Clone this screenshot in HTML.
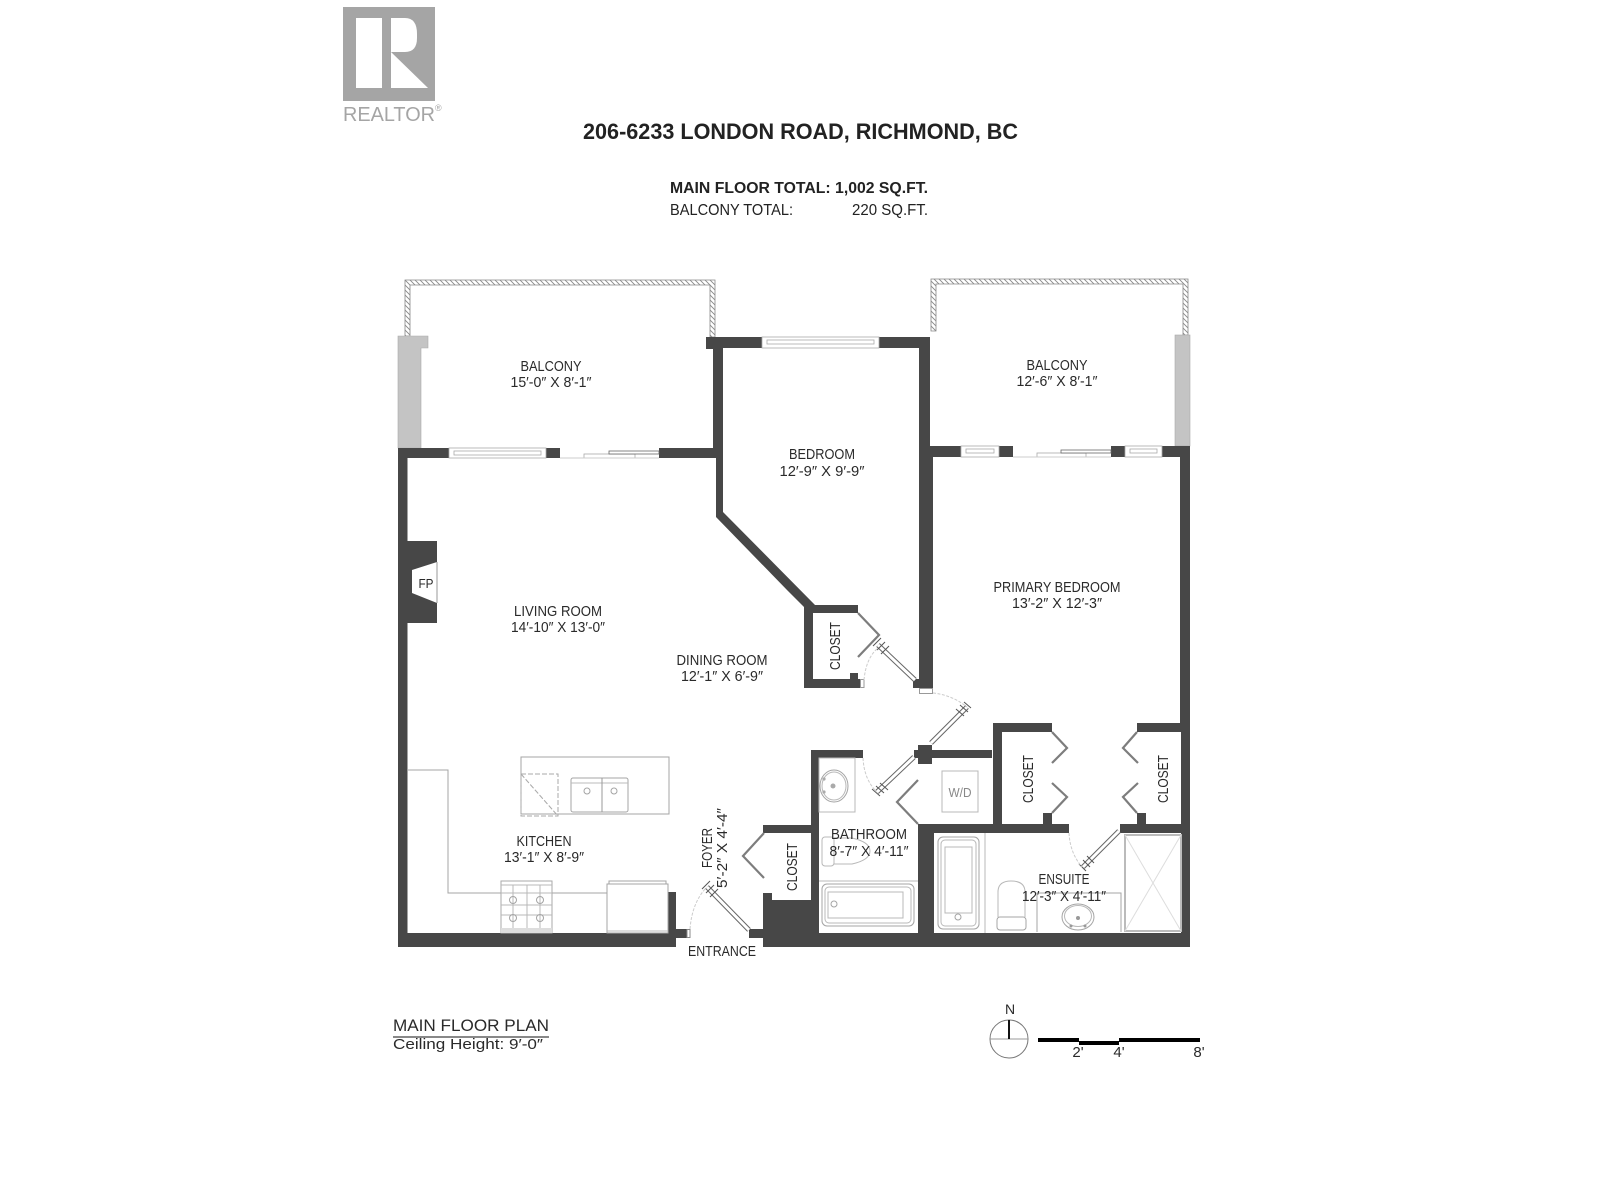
<!DOCTYPE html>
<html><head><meta charset="utf-8"><title>206-6233 London Road floor plan</title>
<style>
html,body{margin:0;padding:0;background:#fff}
svg{display:block}
text{font-family:"Liberation Sans",sans-serif;fill:#2a2a2a}
.f{fill:none;stroke:#a4a4a4;stroke-width:1}
.fd{fill:none;stroke:#b8b8b8;stroke-width:1}
.arc{fill:none;stroke:#ccc;stroke-width:1;stroke-dasharray:3 1.5}
.bf{fill:none;stroke:#7d7d7d;stroke-width:2.2}
.dr{stroke:#666;stroke-width:5;fill:none}
.dw{stroke:#fff;stroke-width:3;fill:none}
.tk{stroke:#555;stroke-width:1;fill:none}
.w{fill:#474747}
</style></head><body>
<svg xmlns="http://www.w3.org/2000/svg" width="1600" height="1200" viewBox="0 0 1600 1200">
<defs>
<pattern id="h" patternUnits="userSpaceOnUse" width="5" height="5"><rect width="5" height="5" fill="#fff"/><path d="M0 0L5 5M-1 4L1 6M4 -1L6 1" stroke="#888" stroke-width="0.9"/></pattern>
</defs>
<rect width="1600" height="1200" fill="#fff"/>

<!-- logo -->
<rect x="343" y="7" width="92" height="94" fill="#a5a5a5"/>
<rect x="356" y="18" width="26" height="70" fill="#fff"/>
<path d="M391 18H405Q417 18 417 34V38Q417 52 405 52H391Z" fill="#fff"/>
<path d="M391 52L428 88H391Z" fill="#fff"/>
<text x="343" y="121" font-size="20" textLength="92" lengthAdjust="spacingAndGlyphs" style="fill:#a5a5a5">REALTOR</text>
<text x="435" y="111" font-size="9" style="fill:#a5a5a5">®</text>

<!-- heading -->
<text x="583" y="139" font-size="22" font-weight="bold" textLength="435" lengthAdjust="spacingAndGlyphs" style="fill:#222">206-6233 LONDON ROAD, RICHMOND, BC</text>
<text x="670" y="193" font-size="16" font-weight="bold" textLength="258" lengthAdjust="spacingAndGlyphs" style="fill:#222">MAIN FLOOR TOTAL: 1,002 SQ.FT.</text>
<text x="670" y="215" font-size="16" textLength="123" lengthAdjust="spacingAndGlyphs" style="fill:#222">BALCONY TOTAL:</text>
<text x="852" y="215" font-size="16" textLength="76" lengthAdjust="spacingAndGlyphs" style="fill:#222">220 SQ.FT.</text>

<!-- balcony rails -->
<g fill="url(#h)" stroke="#888" stroke-width="0.8">
<path d="M405 280H715V337H710V285H410V336H405Z"/>
<path d="M931 279H1188V335H1183V284H936V331H931Z"/>
</g>
<!-- grey pillars -->
<path d="M398 336H428V348H421V448H398Z" fill="#c4c4c4" stroke="#aaa" stroke-width="0.6"/>
<rect x="1175" y="335" width="15" height="111" fill="#c4c4c4" stroke="#aaa" stroke-width="0.6"/>

<!-- walls -->
<g class="w">
<rect x="398" y="448" width="9.5" height="499"/>
<rect x="398" y="448" width="51" height="10"/>
<rect x="546" y="448" width="14" height="10"/>
<rect x="659" y="448" width="57" height="10"/>
<rect x="706" y="337" width="56" height="11"/>
<rect x="879" y="337" width="51" height="11"/>
<rect x="706" y="337" width="17" height="12"/>
<rect x="919" y="337" width="11" height="112"/>
<path d="M713 337H723V512L815 605H858V613H813V679H860V688H804V607L787 590L716 517V458H713Z"/>
<rect x="850" y="673" width="8" height="6"/>
<rect x="919" y="446" width="14" height="242"/>
<rect x="913" y="679" width="6" height="9"/>
<rect x="919" y="446" width="42" height="11"/>
<rect x="999" y="446" width="14" height="11"/>
<rect x="1111" y="446" width="14" height="11"/>
<rect x="1162" y="446" width="28" height="11"/>
<rect x="1180" y="446" width="10" height="277"/>
<rect x="1181" y="723" width="9" height="224"/>
<rect x="398" y="933" width="278" height="14"/>
<rect x="668" y="892" width="8" height="55"/>
<rect x="676" y="929" width="11" height="9"/>
<rect x="749" y="929" width="14" height="9"/>
<rect x="763" y="933" width="427" height="14"/>
<rect x="763" y="825" width="48" height="8"/>
<rect x="763" y="893" width="9" height="54"/>
<rect x="763" y="900" width="56" height="47"/>
<rect x="811" y="750" width="8" height="183"/>
<rect x="811" y="750" width="52" height="8"/>
<rect x="918" y="824" width="16" height="123"/>
<rect x="918" y="824" width="151" height="9"/>
<rect x="1120" y="824" width="70" height="9"/>
<rect x="932" y="750" width="60" height="8"/>
<rect x="918" y="745" width="14" height="19"/>
<rect x="914" y="750" width="4" height="8"/>
<rect x="993" y="723" width="9" height="101"/>
<rect x="993" y="723" width="59" height="9"/>
<rect x="1043" y="813" width="9" height="11"/>
<rect x="1137" y="723" width="44" height="9"/>
<rect x="1137" y="813" width="9" height="11"/>
</g>
<rect x="919.5" y="688.5" width="13" height="5" fill="#fff" stroke="#999"/>
<rect x="860.5" y="679.5" width="3.5" height="8" fill="#fff" stroke="#999"/>
<rect x="687" y="929.5" width="3" height="8" fill="#fff" stroke="#888"/>

<!-- fireplace -->
<rect x="407" y="541" width="30" height="82" fill="#474747"/>
<path d="M412 570L437 562V603L412 593Z" fill="#fff"/>
<line x1="437" y1="562" x2="437" y2="603" stroke="#999"/>
<text x="426" y="588" font-size="13" text-anchor="middle" textLength="15" lengthAdjust="spacingAndGlyphs">FP</text>

<!-- windows -->
<g fill="#fff" stroke="#aaa" stroke-width="0.8">
<rect x="449" y="448" width="97" height="10"/><rect x="454" y="451" width="87" height="4"/>
<rect x="762" y="337" width="117" height="11"/><rect x="767" y="340" width="107" height="4"/>
<rect x="961" y="446" width="38" height="11"/><rect x="966" y="449" width="28" height="4"/>
<rect x="1125" y="446" width="37" height="11"/><rect x="1130" y="449" width="27" height="4"/>
<rect x="584" y="454" width="51" height="4"/>
<rect x="1037" y="453" width="49" height="4"/>
</g>
<g stroke="#666" stroke-width="0.8" fill="#fff">
<rect x="609" y="451" width="50" height="3"/>
<rect x="1061" y="450" width="50" height="3"/>
</g>
<line x1="560" y1="458" x2="659" y2="458" stroke="#ccc"/>
<line x1="1013" y1="457" x2="1111" y2="457" stroke="#ccc"/>

<!-- bifold closet doors -->
<g class="bf">
<path d="M858 613L879 635L858 657"/>
<path d="M918 780L897 802L918 824"/>
<path d="M764 833L743 856L764 878"/>
<path d="M1052 732L1067 748L1052 763"/>
<path d="M1052 783L1067 797L1052 813"/>
<path d="M1137 732L1123 748L1138 763"/>
<path d="M1138 783L1123 797L1137 813"/>
</g>

<!-- swing doors -->
<g>
<path class="dr" d="M915 680L878 645"/><path class="dw" d="M915 680L878 645"/>
<path class="tk" d="M877 650L885 642M881 654L889 646M873 646L881 638"/>
<path class="dr" d="M931 743L967 707"/><path class="dw" d="M931 743L967 707"/>
<path class="tk" d="M960 705L968 712M956 709L964 716M964 702L971 708"/>
<path class="dr" d="M914 757L877 792"/><path class="dw" d="M914 757L877 792"/>
<path class="tk" d="M876 786L884 793M880 783L888 790M872 789L880 796"/>
<path class="dr" d="M749 930L707 887"/><path class="dw" d="M749 930L707 887"/>
<path class="tk" d="M706 893L714 885M710 897L718 889M702 889L710 881"/>
<path class="dr" d="M1119 831L1083 867"/><path class="dw" d="M1119 831L1083 867"/>
<path class="tk" d="M1083 860L1090 867M1087 856L1094 863M1079 864L1086 871"/>
</g>
<g class="arc">
<path d="M864 680Q866 658 878 648"/>
<path d="M933 693Q952 695 967 707"/>
<path d="M863 758Q864 778 875 790"/>
<path d="M690 929Q692 903 706 888"/>
<path d="M1069 833Q1070 853 1082 867"/>
</g>

<!-- kitchen -->
<rect class="f" x="521" y="757" width="148" height="57"/>
<rect x="521" y="774" width="37" height="42" fill="none" stroke="#aaa" stroke-dasharray="5 2"/>
<line x1="521" y1="774" x2="558" y2="816" stroke="#aaa" stroke-dasharray="5 2"/>
<rect class="f" x="571" y="778" width="57" height="34" rx="2"/>
<line x1="571" y1="783" x2="628" y2="783" stroke="#bbb"/>
<line x1="602" y1="778" x2="602" y2="812" stroke="#999"/>
<circle class="f" cx="587" cy="791" r="3"/><circle class="f" cx="614" cy="791" r="3"/>
<path class="f" d="M407 770H448V893H607"/>
<rect x="501" y="881" width="51" height="52" fill="#fff" stroke="#aaa"/>
<rect x="501" y="928" width="51" height="5" fill="#ddd"/>
<path class="fd" d="M501 885H552M501 893H552M501 905H552M501 915H552M513 885V928M527 885V928M540 885V928" stroke-width=".7"/>
<circle class="f" cx="513" cy="900" r="3.5"/><circle class="f" cx="540" cy="900" r="3.5"/>
<circle class="f" cx="513" cy="918" r="3.5"/><circle class="f" cx="540" cy="918" r="3.5"/>
<rect x="607" y="884" width="61" height="49" fill="#fff" stroke="#a4a4a4"/>
<rect class="f" x="609" y="881" width="57" height="3"/>
<line x1="607" y1="931" x2="668" y2="931" stroke="#bbb"/>

<!-- bathroom fixtures -->
<rect class="fd" x="819" y="758" width="36" height="54"/>
<ellipse class="f" cx="834" cy="786" rx="14" ry="16"/>
<ellipse class="fd" cx="834" cy="786" rx="12" ry="14"/>
<circle cx="833" cy="786" r="2.5" fill="#aaa"/><circle cx="824" cy="779" r="1.6" fill="#aaa"/><circle cx="824" cy="792" r="1.6" fill="#aaa"/>
<rect class="fd" x="822" y="837" width="12" height="29" rx="3"/>
<path class="fd" d="M834 838H852Q870 842 870 851Q870 860 852 864H834"/>
<line class="fd" x1="819" y1="881" x2="918" y2="881"/>
<rect class="f" x="822" y="884" width="92" height="42" rx="5"/>
<rect class="fd" x="825" y="887" width="86" height="36" rx="4"/>
<rect class="fd" x="828" y="892" width="75" height="26"/>
<circle class="f" cx="834" cy="904" r="3"/>

<!-- ensuite fixtures -->
<line class="fd" x1="985" y1="833" x2="985" y2="933"/>
<rect class="f" x="938" y="837" width="41" height="92" rx="5"/>
<rect class="fd" x="941" y="840" width="35" height="86" rx="4"/>
<rect class="fd" x="945" y="847" width="27" height="66"/>
<circle class="f" cx="958" cy="917" r="3"/>
<path class="fd" d="M998 917V892Q998 881 1011 881Q1025 881 1025 892V917"/>
<rect class="f" x="997" y="917" width="29" height="13" rx="3"/>
<path class="f" d="M1037 932V893H1121V932"/>
<ellipse class="f" cx="1078" cy="917" rx="16" ry="13"/>
<ellipse class="fd" cx="1078" cy="916" rx="13.5" ry="10.5"/>
<circle cx="1078" cy="918" r="2" fill="#999"/><circle cx="1071" cy="926" r="1.5" fill="#999"/><circle cx="1085" cy="926" r="1.5" fill="#999"/>
<rect x="1125" y="835" width="56" height="96" fill="none" stroke="#bbb" stroke-width="2"/>
<path d="M1125 835L1181 931M1181 835L1125 931" stroke="#ddd"/>

<!-- W/D -->
<rect class="fd" x="942" y="771" width="36" height="41"/>
<text x="960" y="797" font-size="12.5" text-anchor="middle" textLength="23" lengthAdjust="spacingAndGlyphs" style="fill:#888">W/D</text>

<!-- room labels -->
<g font-size="14.5" text-anchor="middle">
<text x="551" y="371" textLength="61" lengthAdjust="spacingAndGlyphs">BALCONY</text>
<text x="551" y="387" textLength="81" lengthAdjust="spacingAndGlyphs">15′-0″ X 8′-1″</text>
<text x="822" y="459" textLength="66" lengthAdjust="spacingAndGlyphs">BEDROOM</text>
<text x="822" y="476" textLength="85" lengthAdjust="spacingAndGlyphs">12′-9″ X 9′-9″</text>
<text x="1057" y="370" textLength="61" lengthAdjust="spacingAndGlyphs">BALCONY</text>
<text x="1057" y="386" textLength="81" lengthAdjust="spacingAndGlyphs">12′-6″ X 8′-1″</text>
<text x="1057" y="592" textLength="127" lengthAdjust="spacingAndGlyphs">PRIMARY BEDROOM</text>
<text x="1057" y="608" textLength="90" lengthAdjust="spacingAndGlyphs">13′-2″ X 12′-3″</text>
<text x="558" y="616" textLength="88" lengthAdjust="spacingAndGlyphs">LIVING ROOM</text>
<text x="558" y="632" textLength="94" lengthAdjust="spacingAndGlyphs">14′-10″ X 13′-0″</text>
<text x="722" y="665" textLength="91" lengthAdjust="spacingAndGlyphs">DINING ROOM</text>
<text x="722" y="681" textLength="82" lengthAdjust="spacingAndGlyphs">12′-1″ X 6′-9″</text>
<text x="544" y="846" textLength="55" lengthAdjust="spacingAndGlyphs">KITCHEN</text>
<text x="544" y="862" textLength="80" lengthAdjust="spacingAndGlyphs">13′-1″ X 8′-9″</text>
<text x="869" y="839" textLength="76" lengthAdjust="spacingAndGlyphs">BATHROOM</text>
<text x="869" y="856" textLength="79" lengthAdjust="spacingAndGlyphs">8′-7″ X 4′-11″</text>
<text x="1064" y="884" textLength="51" lengthAdjust="spacingAndGlyphs">ENSUITE</text>
<text x="1064" y="901" textLength="84" lengthAdjust="spacingAndGlyphs">12′-3″ X 4′-11″</text>
<text x="722" y="956" textLength="68" lengthAdjust="spacingAndGlyphs">ENTRANCE</text>
<text transform="translate(712 848) rotate(-90)" textLength="40" lengthAdjust="spacingAndGlyphs">FOYER</text>
<text transform="translate(727 848) rotate(-90)" textLength="80" lengthAdjust="spacingAndGlyphs">5′-2″ X 4′-4″</text>
<text transform="translate(797 867) rotate(-90)" textLength="48" lengthAdjust="spacingAndGlyphs">CLOSET</text>
<text transform="translate(840 646) rotate(-90)" textLength="48" lengthAdjust="spacingAndGlyphs">CLOSET</text>
<text transform="translate(1033 779) rotate(-90)" textLength="48" lengthAdjust="spacingAndGlyphs">CLOSET</text>
<text transform="translate(1168 779) rotate(-90)" textLength="48" lengthAdjust="spacingAndGlyphs">CLOSET</text>
</g>

<!-- footer -->
<text x="393" y="1031" font-size="17" textLength="156" lengthAdjust="spacingAndGlyphs">MAIN FLOOR PLAN</text>
<rect x="393" y="1036" width="156" height="2" fill="#888"/>
<text x="393" y="1049" font-size="15" textLength="150" lengthAdjust="spacingAndGlyphs">Ceiling Height: 9′-0″</text>
<text x="1010" y="1014" font-size="14" text-anchor="middle">N</text>
<circle cx="1009" cy="1039" r="19" fill="#fff" stroke="#777"/>
<line x1="990" y1="1039" x2="1028" y2="1039" stroke="#999"/>
<line x1="1009" y1="1020" x2="1009" y2="1039" stroke="#111" stroke-width="2"/>
<rect x="1038" y="1038" width="41" height="4" fill="#000"/>
<rect x="1079" y="1041" width="40" height="4" fill="#000"/>
<rect x="1119" y="1038" width="81" height="4" fill="#000"/>
<g font-size="15" text-anchor="middle">
<text x="1078" y="1057">2'</text><text x="1119" y="1057">4'</text><text x="1199" y="1057">8'</text>
</g>
</svg>
</body></html>
